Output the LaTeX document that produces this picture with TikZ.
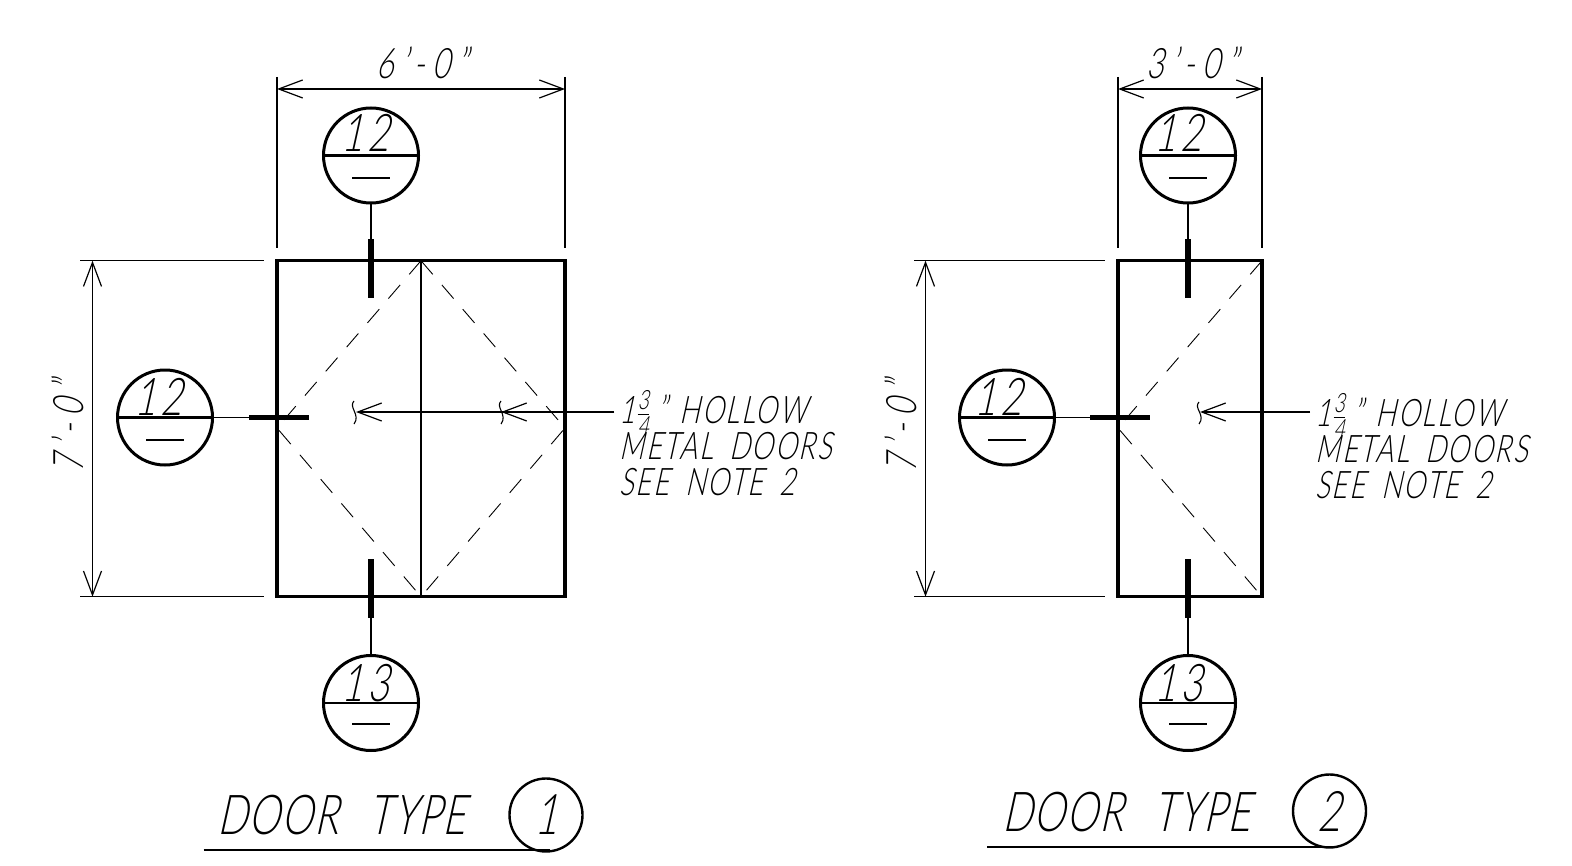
\documentclass[tikz,border=0pt]{standalone}
\usepackage{amsmath}
\usepackage{fontspec}
\setmainfont{Lato Light}[FakeSlant=0.22,FakeStretch=0.72]
\usepackage{tikz}
\usetikzlibrary{arrows.meta}
\pgfdeclarelayer{background}
\pgfsetlayers{background,main}

\begin{document}
\begin{tikzpicture}[
					x=0.5pt, y=-0.5pt,
					>={Straight Barb[length=12pt,width=9pt,line width=0.6pt]},
					bubble/.style={circle, draw=black, line width=1.5pt, fill=white, inner sep=0pt, outer sep=0pt, minimum size=47.5pt},
					typeround/.style={circle, draw=black, line width=1.2pt, inner sep=0pt, outer sep=0pt, font=\fontsize{28}{28}\selectfont, minimum size=36.5pt},
					doorbox/.style={draw=black, line width=1.7pt, inner sep=0pt, outer sep=0pt, anchor=north west},
					num/.style={inner sep=0pt, font=\fontsize{26}{26}\selectfont\addfontfeature{LetterSpace=8}},
					dimtext/.style={inner sep=2pt, font=\fontsize{21}{21}\selectfont\addfontfeature{LetterSpace=18}},
					title/.style={inner sep=0pt, anchor=base west, font=\fontsize{27.5}{28}\selectfont\addfontfeature{LetterSpace=2.5}},
					note/.style={inner sep=0pt, anchor=north west, align=left, font=\fontsize{19}{18}\selectfont\addfontfeature{LetterSpace=5}},
					thin line/.style={line width=0.55pt},
					leader/.style={line width=0.8pt},
					tick/.style={line width=2.8pt},
					hidden/.style={line width=0.45pt, dash pattern=on 9pt off 7pt},
					]
					%Door 1 nodes
					\node[doorbox, minimum width=144pt, minimum height=168pt] (door1) at (277,260.7) {};
					\node[bubble] (top1) at (371,155.5) {};
					\node[bubble] (left1) at (165,417.5) {};
					\node[bubble] (bot1) at (371,703) {};
					\node[num] (top1n) at (365,132.5) {12};
					\node[num] (left1n) at (158,397) {12};
					\node[num] (bot1n) at (365,683) {13};
					\node[note] (note1) at (619,423) {\smash{1$\frac{\text{3}}{\text{4}}$\,"\,\,HOLLOW}\\METAL\, DOORS\\SEE\, NOTE\, 2};
					\node[title] (title1) at (217,834) {DOOR\,\, TYPE};
					\node[typeround] (round1) at (546,815) {1};
					
					%Door 2 nodes
					\node[doorbox, minimum width=72pt, minimum height=168pt] (door2) at (1118,260.7) {};
					\node[bubble] (top2) at (1188,155.5) {};
					\node[bubble] (left2) at (1007,417.5) {};
					\node[bubble] (bot2) at (1188,703) {};
					\node[num] (top2n) at (1178,132.5) {12};
					\node[num] (left2n) at (998,397) {12};
					\node[num] (bot2n) at (1178,683) {13};
					\node[note] (note2) at (1315,426) {\smash{1$\frac{\text{3}}{\text{4}}$\,"\,\,HOLLOW}\\METAL\, DOORS\\SEE\, NOTE\, 2};
					\node[title] (title2) at (1002,831) {DOOR\,\, TYPE};
					\node[typeround] (round2) at (1329.5,811) {2};
					
					%Free ends door 1
					\coordinate (ext1a) at (277,77);
					\coordinate (ext1b) at (277,248);
					\coordinate (ext1c) at (565,77);
					\coordinate (ext1d) at (565,248);
					\coordinate (ext1e) at (80,260.7);
					\coordinate (ext1f) at (264,260.7);
					\coordinate (ext1g) at (80,596.7);
					\coordinate (ext1h) at (264,596.7);
					\coordinate (dim1a) at (277,89);
					\coordinate (dim1b) at (565,89);
					\coordinate (dim1c) at (92.5,596.7);
					\coordinate (dim1d) at (92.5,260.7);
					\coordinate (tick1a) at (371,239);
					\coordinate (tick1b) at (371,298);
					\coordinate (tick1c) at (371,559);
					\coordinate (tick1d) at (371,618);
					\coordinate (tick1e) at (249,417.5);
					\coordinate (tick1f) at (309,417.5);
					\coordinate (mid1a) at (421,260.7);
					\coordinate (mid1b) at (421,596.7);
					\coordinate (edge1a) at (277,428);
					\coordinate (edge1b) at (565,428);
					\coordinate (lead1) at (614,412);
					\coordinate (head1a) at (356,412);
					\coordinate (head1b) at (501,412);
					\coordinate (under1a) at (203.5,850);
					\coordinate (under1b) at (549.5,850);
					
					%Free ends door 2
					\coordinate (ext2a) at (1118,77);
					\coordinate (ext2b) at (1118,248);
					\coordinate (ext2c) at (1262,77);
					\coordinate (ext2d) at (1262,248);
					\coordinate (ext2e) at (914,260.7);
					\coordinate (ext2f) at (1105,260.7);
					\coordinate (ext2g) at (914,596.7);
					\coordinate (ext2h) at (1105,596.7);
					\coordinate (dim2a) at (1118,89);
					\coordinate (dim2b) at (1262,89);
					\coordinate (dim2c) at (925.5,596.7);
					\coordinate (dim2d) at (925.5,260.7);
					\coordinate (tick2a) at (1188,239);
					\coordinate (tick2b) at (1188,298);
					\coordinate (tick2c) at (1188,559);
					\coordinate (tick2d) at (1188,618);
					\coordinate (tick2e) at (1090,417.5);
					\coordinate (tick2f) at (1150,417.5);
					\coordinate (edge2a) at (1118,428);
					\coordinate (corner2a) at (1262,260.7);
					\coordinate (corner2b) at (1262,596.7);
					\coordinate (lead2) at (1310,412);
					\coordinate (head2a) at (1200,412);
					\coordinate (under2a) at (987,847);
					\coordinate (under2b) at (1334,847);
					
					\useasboundingbox (0,0) rectangle (1572,866);
					
					\begin{pgfonlayer}{background}
					%Lines door 1
					\draw[thin line] (ext1a) -- (ext1b);
					\draw[thin line] (ext1c) -- (ext1d);
					\draw[thin line] (ext1e) -- (ext1f);
					\draw[thin line] (ext1g) -- (ext1h);
					\draw[thin line,<->] (dim1a) -- node[dimtext,above,yshift=3pt,xshift=0.5pt] {6'-0"} (dim1b);
					\draw[thin line,<->] (dim1c) -- node[dimtext,above,rotate=90,xshift=1pt,yshift=2pt] {7'-0"} (dim1d);
					\draw[thin line] (mid1a) -- (mid1b);
					\draw[hidden] (mid1a) -- (edge1a) -- (mid1b);
					\draw[hidden] (mid1a) -- (edge1b) -- (mid1b);
					\draw[thin line] (top1) -- (tick1a);
					\draw[thin line] (bot1) -- (tick1d);
					\draw[thin line] (left1) -- (tick1e);
					\draw[leader,->] (lead1) -- (head1a);
					\draw[leader,->] (lead1) -- (head1b);
					\draw[line width=1.2pt] (under1a) -- (under1b);
					
					%Lines door 2
					\draw[thin line] (ext2a) -- (ext2b);
					\draw[thin line] (ext2c) -- (ext2d);
					\draw[thin line] (ext2e) -- (ext2f);
					\draw[thin line] (ext2g) -- (ext2h);
					\draw[thin line,<->] (dim2a) -- node[dimtext,above,yshift=3pt,xshift=1pt] {3'-0"} (dim2b);
					\draw[thin line,<->] (dim2c) -- node[dimtext,above,rotate=90,xshift=1pt,yshift=2pt] {7'-0"} (dim2d);
					\draw[hidden] (corner2a) -- (edge2a) -- (corner2b);
					\draw[thin line] (top2) -- (tick2a);
					\draw[thin line] (bot2) -- (tick2d);
					\draw[thin line] (left2) -- (tick2e);
					\draw[leader,->] (lead2) -- (head2a);
					\draw[line width=1.2pt] (under2a) -- (under2b);
					\end{pgfonlayer}
					
					%Ticks and bars
					\draw[tick] (tick1a) -- (tick1b);
					\draw[tick] (tick1c) -- (tick1d);
					\draw[tick] (tick1e) -- (tick1f);
					\draw[tick] (tick2a) -- (tick2b);
					\draw[tick] (tick2c) -- (tick2d);
					\draw[tick] (tick2e) -- (tick2f);
					\draw[line width=1.1pt] (top1.west) -- (top1.east);
					\draw[line width=1.1pt] (left1.west) -- (left1.east);
					\draw[line width=1.1pt] (bot1.west) -- (bot1.east);
					\draw[line width=1.1pt] (top2.west) -- (top2.east);
					\draw[line width=1.1pt] (left2.west) -- (left2.east);
					\draw[line width=1.1pt] (bot2.west) -- (bot2.east);
					\draw[thick] (352,178) -- (390,178);
					\draw[thick] (146,440) -- (184,440);
					\draw[thick] (352,724) -- (390,724);
					\draw[thick] (1169,178) -- (1207,178);
					\draw[thick] (988,440) -- (1026,440);
					\draw[thick] (1169,724) -- (1207,724);
					
					%Break marks
					\draw[thin line] (354,401) .. controls (348,407) and (361,415) .. (354,424);
					\draw[thin line] (501,401) .. controls (495,407) and (508,415) .. (501,424);
					\draw[thin line] (1199,402) .. controls (1193,408) and (1206,415) .. (1199,424);
				\end{tikzpicture}
\end{document}
